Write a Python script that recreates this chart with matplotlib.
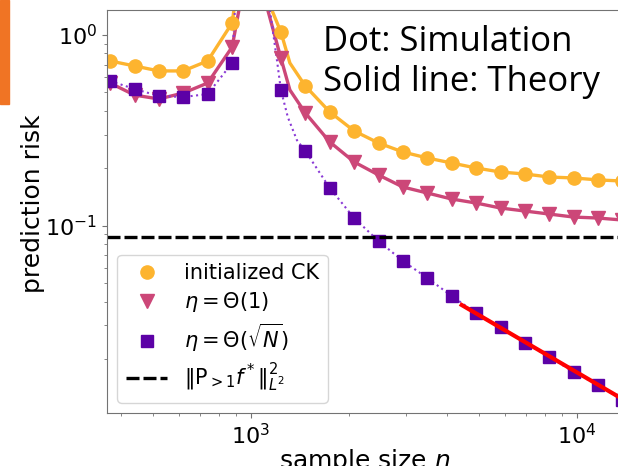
import matplotlib
matplotlib.use("Agg")
import matplotlib.pyplot as plt
from matplotlib.patches import Rectangle

# sample sizes of the simulation points
n_sim = [370, 440, 522, 620, 737, 876, 1236, 1469, 1745, 2073, 2463, 2926,
         3476, 4130, 4906, 5829, 6924, 8226, 9773, 11610, 13790]

# simulated prediction risk
risk_ck = [0.731, 0.688, 0.648, 0.648, 0.731, 1.156, 1.037, 0.540, 0.395,
           0.314, 0.2715, 0.2435, 0.2265, 0.2132, 0.2007, 0.1912, 0.1867,
           0.180, 0.178, 0.1738, 0.1715]
risk_eta1 = [0.560, 0.484, 0.462, 0.496, 0.560, 0.865, 0.757, 0.390, 0.275,
             0.216, 0.1845, 0.1595, 0.1484, 0.138, 0.1315, 0.1238, 0.1194,
             0.1151, 0.111, 0.1097, 0.1071]
risk_etaN = [0.574, 0.521, 0.479, 0.473, 0.490, 0.713, 0.515, 0.2464, 0.1577,
             0.1097, 0.0831, 0.0653, 0.0532, 0.0428, 0.0348, 0.0294, 0.0243,
             0.0205, 0.0171, 0.0146, 0.0122]

# theory curves (same grid plus a few points around the peak n ~ N)
n_th_ck = [370, 440, 522, 620, 737, 876, 887, 905, 1130, 1160, 1236, 1317,
           1469, 1745, 2073, 2463, 2926, 3476, 4130, 4906, 5829, 6924, 8226,
           9773, 11610, 13790]
th_ck = [0.731, 0.688, 0.648, 0.648, 0.731, 1.156, 1.35, 3.0, 3.0, 1.35,
         1.037, 0.713, 0.540, 0.395, 0.314, 0.2715, 0.2435, 0.2265, 0.2132,
         0.2007, 0.1912, 0.1867, 0.180, 0.178, 0.1738, 0.1715]

n_th_eta1 = [370, 440, 522, 620, 737, 876, 919, 935, 1110, 1127, 1236, 1317,
             1469, 1745, 2073, 2463, 2926, 3476, 4130, 4906, 5829, 6924, 8226,
             9773, 11610, 13790]
th_eta1 = [0.560, 0.484, 0.462, 0.496, 0.560, 0.865, 1.35, 3.0, 3.0, 1.35,
           0.757, 0.515, 0.390, 0.275, 0.216, 0.1845, 0.1595, 0.1484, 0.138,
           0.1315, 0.1238, 0.1194, 0.1151, 0.111, 0.1097, 0.1071]

n_dot_etaN = [370, 440, 522, 620, 737, 876, 893, 905, 1120, 1144, 1202, 1236,
              1298, 1384, 1469, 1745, 2073, 2463, 2926, 3476, 4130, 4906,
              5829, 6924, 8226, 9773, 11610, 13790]
dot_etaN = [0.574, 0.521, 0.479, 0.473, 0.490, 0.713, 1.35, 3.0, 3.0, 1.35,
            0.739, 0.515, 0.371, 0.281, 0.2464, 0.1577, 0.1097, 0.0831,
            0.0653, 0.0532, 0.0428, 0.0348, 0.0294, 0.0243, 0.0205, 0.0171,
            0.0146, 0.0122]

# rate line for the large-n regime
n_rate = [4430, 14000]
rate = [0.0384, 0.01215]

# ||P_{>1} f*||^2
null_risk = 0.0869

c_ck = "#fdb42f"
c_eta1 = "#cc4778"
c_etaN = "#5c01a6"

fig = plt.figure(figsize=(6.18, 4.66), dpi=100)
ax = fig.add_axes([0.1731, 0.1137, 0.835, 0.8648])

ax.plot(n_th_ck, th_ck, "-", color=c_ck, lw=2.4)
ax.plot(n_th_eta1, th_eta1, "-", color=c_eta1, lw=2.4)
ax.plot(n_dot_etaN, dot_etaN, ":", color="#8a3ad6", lw=1.5)

ax.plot(n_sim, risk_ck, "o", color=c_ck, ms=9.5, label="initialized CK")
ax.plot(n_sim, risk_eta1, "v", color=c_eta1, ms=10, label=r"$\eta=\Theta(1)$")
ax.plot(n_sim, risk_etaN, "s", color=c_etaN, ms=8.5,
        label=r"$\eta=\Theta(\sqrt{N})$")
ax.plot(n_rate, rate, "-", color="red", lw=3)
ax.axhline(null_risk, color="black", ls="--", lw=2.4, dashes=(3.9, 1.2),
           label=r"$\|\mathrm{P}_{>1}f^*\|_{L^2}^2$")

ax.set_xscale("log")
ax.set_yscale("log")
ax.set_xlim(362, 13840)
ax.set_ylim(0.01042, 1.352)

for side in ax.spines.values():
    side.set_color("0.45")
ax.tick_params(which="both", colors="0.45", labelcolor="black", labelsize=16)

ax.set_xlabel("sample size $n$", fontsize=18, labelpad=-1)
ax.set_ylabel("prediction risk", fontsize=18)
ax.yaxis.set_label_coords(-0.12, 0.52)

ax.legend(loc="lower left", fontsize=15, labelspacing=0.35)

fig.text(0.5227, 0.8906, "Dot: Simulation", fontsize=25, family="Open Sans",
         va="baseline")
fig.text(0.5227, 0.8047, "Solid line: Theory", fontsize=25, family="Open Sans",
         va="baseline")

# orange strip at the top-left edge of the screenshot
fig.patches.append(Rectangle((0, 1 - 104 / 466), 9 / 618, 104 / 466,
                             transform=fig.transFigure, color="#f07424",
                             zorder=0))

fig.savefig("out.png", dpi=100)
